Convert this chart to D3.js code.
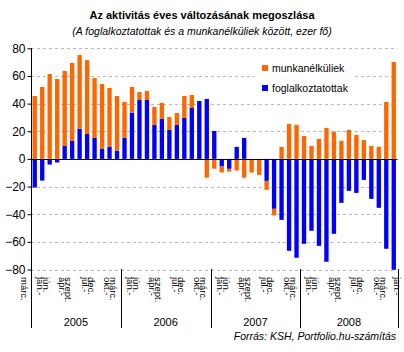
<!DOCTYPE html>
<html>
<head>
<meta charset="utf-8">
<script src="https://cdn.jsdelivr.net/npm/d3@7"></script>
<style>
  body { margin: 0; background: #fff; }
  svg { font-family: Arial, "Liberation Sans", sans-serif; }
</style>
</head>
<body>
<div id="chart"></div>
<script>
// year groups on the category axis (2008 group also holds the last window)
const years = ["2005", "2006", "2007", "2008"];
const yearSizes = [12, 12, 12, 13];
// two-line period labels, shown on every third category
const periodLabels = [["jan.-", "jún."], ["ápr.-", "szept."], ["júl.-", "dec."], ["okt.-", "márc."]];
const yTicks = [-80, -60, -40, -20, 0, 20, 40, 60, 80];

// ezer fő, year-on-year change
const foglalkoztatottak = [
  -20.7, -15.7, -4.1, -2.6, 9.4, 13.2, 21.7, 18.0, 15.2, 7.5, 8.9, 6.0,
  15.2, 33.5, 42.6, 42.6, 24.6, 28.9, 21.0, 24.6, 29.6, 36.8, 41.9, 43.4,
  20.2, -5.5, -7.2, 8.7, 15.2, 0, 0, -15.9, -36.1, -44.1, -66.5, -71.5,
  -61.4, -52.0, -62.9, -74.4, -54.2, -31.8, -23.1, -24.6, -15.2, -28.9, -35.4, -65.0, -80.2
];
const munkanelkuliek = [
  45.5, 52.0, 61.4, 57.8, 54.2, 56.2, 53.4, 53.5, 43.3, 46.7, 42.4, 39.5,
  26.0, 18.5, 5.8, 6.5, 13.0, 11.6, 9.3, 8.6, 15.9, 9.4, 0, -13.6,
  -7.1, -4.3, -2.0, -8.4, -13.6, -9.9, -11.6, -6.5, -4.8, 8.7, 25.3, 24.6,
  16.6, 9.4, 14.5, 22.4, 19.7, 13.0, 21.0, 17.3, 13.7, 9.4, 8.7, 41.2, 70.1
];

const series = [
  { key: "fogl", label: "foglalkoztatottak", color: "#0000ff" },
  { key: "munk", label: "munkanélküliek", color: "#ff6600" }
];

const W = 404, H = 352;
const x0 = 31, x1 = 397.5;

const svg = d3.select("#chart").append("svg")
  .attr("width", W).attr("height", H);

const rows = foglalkoztatottak.map((v, i) => ({ i, fogl: v, munk: munkanelkuliek[i] }));

const x = d3.scaleBand()
  .domain(d3.range(rows.length))
  .range([x0, x1])
  .paddingInner(0.42)
  .paddingOuter(0.21);
const step = x.step();
const center = i => x0 + step * (i + 0.5);

const y = d3.scaleLinear().domain([-80, 80]).range([269.5, 48.3]);
const py = v => Math.round(y(v)) + 0.5;

// titles
svg.append("text")
  .attr("x", 202).attr("y", 19)
  .attr("text-anchor", "middle")
  .attr("font-size", 11).attr("font-weight", "bold")
  .text("Az aktivitás éves változásának megoszlása");
svg.append("text")
  .attr("x", 202).attr("y", 35)
  .attr("text-anchor", "middle")
  .attr("font-size", 10.5).attr("font-style", "italic")
  .text("(A foglalkoztatottak és a munkanélküliek között, ezer fő)");

// grid
svg.append("g")
  .selectAll("line")
  .data(yTicks.filter(t => t !== 0))
  .join("line")
  .attr("x1", x0).attr("x2", x1)
  .attr("y1", d => py(d)).attr("y2", d => py(d))
  .attr("stroke", "#b8b8b8")
  .attr("stroke-dasharray", "3,3");

// legend background hides the grid
svg.append("rect")
  .attr("x", 255).attr("y", 57).attr("width", 97).attr("height", 40)
  .attr("fill", "#fff");

// bars
const stacked = d3.stack()
  .keys(series.map(s => s.key))
  .offset(d3.stackOffsetDiverging)(rows);

svg.append("g")
  .selectAll("g")
  .data(stacked)
  .join("g")
  .attr("fill", (d, k) => series[k].color)
  .selectAll("rect")
  .data(d => d)
  .join("rect")
  .attr("x", d => x(d.data.i))
  .attr("width", x.bandwidth())
  .attr("y", d => y(Math.max(d[0], d[1])))
  .attr("height", d => Math.abs(y(d[0]) - y(d[1])));

// zero line
svg.append("line")
  .attr("x1", x0).attr("x2", x1)
  .attr("y1", py(0)).attr("y2", py(0))
  .attr("stroke", "#000");

// y axis
const yAxis = svg.append("g")
  .attr("transform", `translate(${Math.round(x0) + 0.5},0)`)
  .call(d3.axisLeft(y).tickValues(yTicks).tickSize(4).tickSizeOuter(0).tickPadding(2));
yAxis.select(".domain").remove();
yAxis.selectAll(".tick line").attr("stroke", "#000");
yAxis.selectAll(".tick text")
  .attr("font-size", 12).attr("font-family", "Arial, 'Liberation Sans', sans-serif")
  .attr("fill", "#000");

// year separators (first one is the y axis)
const bounds = [0];
yearSizes.forEach(n => bounds.push(bounds[bounds.length - 1] + n));
svg.append("line")
  .attr("x1", Math.round(x0) + 0.5).attr("x2", Math.round(x0) + 0.5)
  .attr("y1", 48).attr("y2", 270)
  .attr("stroke", "#000");
svg.append("g")
  .selectAll("line")
  .data(bounds)
  .join("line")
  .attr("x1", d => Math.round(x0 + step * d) + 0.5)
  .attr("x2", d => Math.round(x0 + step * d) + 0.5)
  .attr("y1", 269).attr("y2", 328)
  .attr("stroke", "#000");

// year labels
svg.append("g")
  .selectAll("text")
  .data(years)
  .join("text")
  .attr("x", (d, k) => x0 + step * (bounds[k] + bounds[k + 1]) / 2)
  .attr("y", 326)
  .attr("text-anchor", "middle")
  .attr("font-size", 11)
  .text(d => d);

// period labels every third category; the first shows only its end month,
// the last (past the right edge) only its start month
const labelItems = d3.range(-1, 17).map(k => ({
  i: 1 + 3 * k,
  lines: k < 0 ? [null, periodLabels[3][1]]
       : k === 16 ? [periodLabels[0][0], null]
       : periodLabels[k % 4]
}));
const lg = svg.append("g").attr("font-size", 9.5);
labelItems.forEach(d => {
  const cx = Math.min(center(d.i), 399);
  const g = lg.append("g")
    .attr("transform", `translate(${cx},277) rotate(90)`);
  if (d.lines[0]) g.append("text").attr("y", 5.2).text(d.lines[0]);
  if (d.lines[1]) g.append("text").attr("y", -0.8).text(d.lines[1]);
});

// legend
const legend = svg.append("g").attr("transform", "translate(262,65)");
[series[1], series[0]].forEach((s, k) => {
  legend.append("rect")
    .attr("x", 0).attr("y", k * 20)
    .attr("width", 6).attr("height", 6)
    .attr("fill", s.color);
  legend.append("text")
    .attr("x", 10).attr("y", k * 20 + 6.5)
    .attr("font-size", 10.5)
    .text(s.label);
});

// source
svg.append("text")
  .attr("x", 396).attr("y", 340)
  .attr("text-anchor", "end")
  .attr("font-size", 10.5).attr("font-style", "italic")
  .text("Forrás: KSH, Portfolio.hu-számítás");
</script>
</body>
</html>
